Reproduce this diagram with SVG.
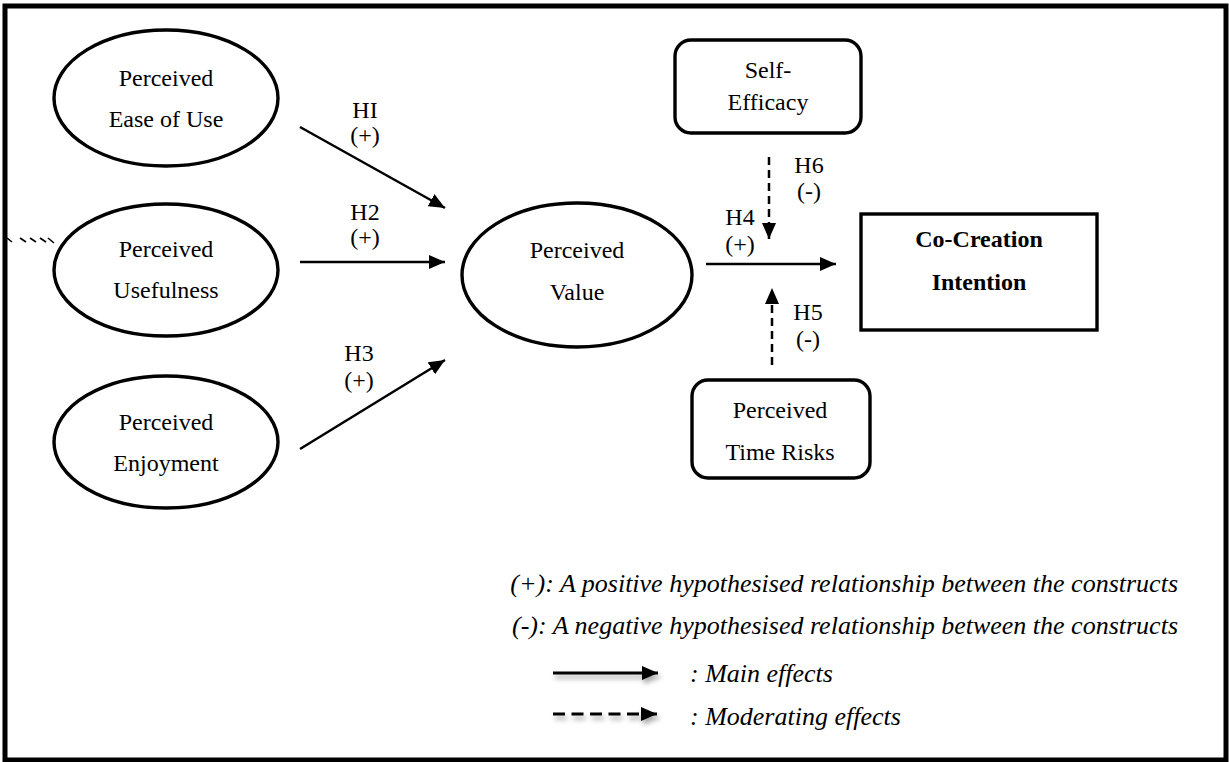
<svg xmlns="http://www.w3.org/2000/svg" width="1229" height="762" viewBox="0 0 1229 762">
  <style>
    text { font-family: "Liberation Serif", "Times New Roman", serif; fill: #000; }
    .lbl { font-size: 24px; text-anchor: middle; }
    .bold { font-weight: bold; }
    .legend { font-size: 26px; font-style: italic; }
    .construct { fill: #fff; stroke: #000; stroke-width: 3.4; }
    .edge { fill: none; stroke: #000; stroke-width: 2.5; }
    .dash { stroke-dasharray: 8 5; }
    .legend-line { fill: none; stroke: #000; stroke-width: 3; }
  </style>
  <defs>
    <marker id="head" viewBox="0 0 16 14" refX="16" refY="7" markerWidth="16" markerHeight="14" markerUnits="userSpaceOnUse" orient="auto">
      <path d="M0,0 L16,7 L0,14 Z" fill="#000"/>
    </marker>
    <filter id="soft-shadow" x="-10%" y="-100%" width="130%" height="400%">
      <feDropShadow dx="2" dy="4" stdDeviation="2.5" flood-color="#000" flood-opacity="0.35"/>
    </filter>
  </defs>

  <rect x="0" y="0" width="1229" height="762" fill="#fff"/>
  <!-- outer frame -->
  <rect x="5" y="6" width="1221" height="754" fill="none" stroke="#000" stroke-width="5"/>

  <!-- stray tick marks at the left edge -->
  <g id="edge-ticks" stroke="#000" stroke-width="1.6" fill="none">
    <path d="M7,238 L12,242 M20,238 L26,242 M30,238 L36,242 M40,238 L46,242 M48,238 L54,243"/>
  </g>

  <g id="peou">
    <ellipse class="construct" cx="166" cy="98" rx="112" ry="68"/>
    <text class="lbl" x="166" y="86">Perceived</text>
    <text class="lbl" x="166" y="127">Ease of Use</text>
  </g>
  <g id="pu">
    <ellipse class="construct" cx="166" cy="270" rx="112" ry="66"/>
    <text class="lbl" x="166" y="257">Perceived</text>
    <text class="lbl" x="166" y="298">Usefulness</text>
  </g>
  <g id="pe">
    <ellipse class="construct" cx="166" cy="442" rx="112" ry="66"/>
    <text class="lbl" x="166" y="430">Perceived</text>
    <text class="lbl" x="166" y="471">Enjoyment</text>
  </g>
  <g id="pv">
    <ellipse class="construct" cx="577" cy="275" rx="115" ry="72"/>
    <text class="lbl" x="577" y="258">Perceived</text>
    <text class="lbl" x="577" y="300">Value</text>
  </g>
  <g id="self-efficacy">
    <rect class="construct" x="675" y="40" width="186" height="93" rx="16"/>
    <text class="lbl" x="768" y="78">Self-</text>
    <text class="lbl" x="768" y="110">Efficacy</text>
  </g>
  <g id="time-risks">
    <rect class="construct" x="692" y="380" width="178" height="98" rx="16"/>
    <text class="lbl" x="780" y="418">Perceived</text>
    <text class="lbl" x="780" y="460">Time Risks</text>
  </g>
  <g id="cci">
    <rect class="construct" x="861" y="214" width="236" height="116"/>
    <text class="lbl bold" x="979" y="247">Co-Creation</text>
    <text class="lbl bold" x="979" y="290">Intention</text>
  </g>

  <g id="connectors">
    <line class="edge" x1="300" y1="127" x2="445" y2="208" marker-end="url(#head)"/>
    <line class="edge" x1="300" y1="262" x2="445" y2="262" marker-end="url(#head)"/>
    <line class="edge" x1="300" y1="449" x2="445" y2="360" marker-end="url(#head)"/>
    <line class="edge" x1="706" y1="264" x2="836" y2="264" marker-end="url(#head)"/>
    <line class="edge dash" x1="769" y1="157" x2="769" y2="239" marker-end="url(#head)"/>
    <line class="edge dash" x1="772" y1="365" x2="772" y2="288" marker-end="url(#head)"/>
  </g>

  <g id="path-labels">
    <text class="lbl" x="365" y="118">HI</text>
    <text class="lbl" x="365" y="143">(+)</text>
    <text class="lbl" x="365" y="220">H2</text>
    <text class="lbl" x="365" y="245">(+)</text>
    <text class="lbl" x="359" y="361">H3</text>
    <text class="lbl" x="359" y="388">(+)</text>
    <text class="lbl" x="740" y="225">H4</text>
    <text class="lbl" x="740" y="252">(+)</text>
    <text class="lbl" x="809" y="173">H6</text>
    <text class="lbl" x="809" y="199">(-)</text>
    <text class="lbl" x="808" y="320">H5</text>
    <text class="lbl" x="808" y="347">(-)</text>
  </g>

  <g id="legend">
    <text class="legend" x="1178" y="592" text-anchor="end">(+): A positive hypothesised relationship between the constructs</text>
    <text class="legend" x="1178" y="634" text-anchor="end">(-): A negative hypothesised relationship between the constructs</text>
    <g filter="url(#soft-shadow)">
      <line class="legend-line" x1="553" y1="673" x2="658" y2="673" marker-end="url(#head)"/>
      <line class="legend-line" x1="553" y1="714" x2="657" y2="714" stroke-dasharray="12 6.5" marker-end="url(#head)"/>
    </g>
    <text class="legend" x="690" y="682">: Main effects</text>
    <text class="legend" x="690" y="725">: Moderating effects</text>
  </g>
</svg>
